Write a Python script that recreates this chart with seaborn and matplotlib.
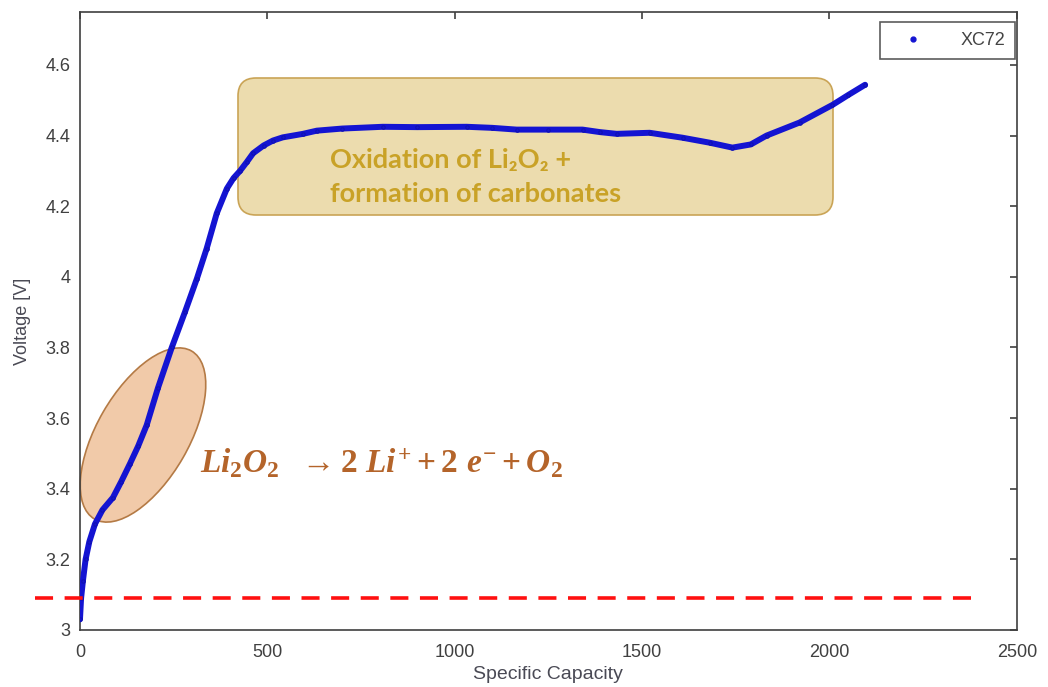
import numpy as np
import seaborn as sns
import matplotlib.pyplot as plt
from matplotlib.patches import Ellipse, FancyBboxPatch
from matplotlib.lines import Line2D

# charge curve
capacity = [0, 3, 8, 15, 25, 40, 60, 88, 110, 133, 155, 178, 208, 245, 280, 312,
            338, 365, 392, 410, 427, 445, 462, 490, 515, 541, 595, 632, 700, 808, 900,
            1032, 1100, 1165, 1250, 1341, 1387, 1432, 1520, 1608, 1680, 1741, 1790,
            1832, 1920, 2008, 2050, 2095]
voltage = [3.03, 3.09, 3.14, 3.20, 3.25, 3.30, 3.34, 3.375, 3.42, 3.47, 3.52, 3.58,
           3.685, 3.80, 3.90, 3.995, 4.08, 4.18, 4.25, 4.28, 4.30, 4.325, 4.35, 4.372,
           4.386, 4.395, 4.405, 4.414, 4.42, 4.425, 4.424, 4.425, 4.422, 4.417, 4.417,
           4.417, 4.41, 4.405, 4.408, 4.394, 4.38, 4.366, 4.375, 4.40, 4.437, 4.487,
           4.515, 4.544]
cutoff_v = 3.09
xticks = [0, 500, 1000, 1500, 2000, 2500]
yticks = [3, 3.2, 3.4, 3.6, 3.8, 4, 4.2, 4.4, 4.6]
ytick_labels = ['3', '3.2', '3.4', '3.6', '3.8', '4', '4.2', '4.4', '4.6']

sns.set_theme(style='white')
plt.rcParams['font.family'] = ['Liberation Sans', 'DejaVu Sans']

fig = plt.figure(figsize=(10.48, 6.87), dpi=100)
ax = fig.add_axes([0.0763, 0.083, 0.894, 0.8995])

sns.lineplot(x=capacity, y=voltage, ax=ax, sort=False, color='#1414d2', linewidth=4.3,
             marker='.', markersize=5, markeredgecolor='#1010b0', zorder=4, legend=False)

# red cutoff line, runs past the left axis
ax.plot([-120, 2387], [cutoff_v, cutoff_v], color='#ff1010', lw=2.6, ls=(0, (5, 3.2)),
        clip_on=False, zorder=5)

# annotations placed in figure inches
tr = fig.dpi_scale_trans
ax.add_patch(Ellipse((1.43, 2.52), 1.94, 0.92, angle=60, transform=tr,
                     facecolor='#f1caa9', edgecolor='#b47a45', lw=1.2, zorder=2, clip_on=False))
ax.add_patch(FancyBboxPatch((2.38, 4.72), 5.95, 1.37, boxstyle='round,pad=0,rounding_size=0.18',
                            transform=tr, facecolor='#ecdcae', edgecolor='#caa456', lw=1.2,
                            zorder=2, clip_on=False))

box_font = dict(color='#c9a227', fontsize=19.5, fontweight='bold',
                family=['Lato', 'DejaVu Sans'], va='baseline')
fig.text(3.30 / 10.48, 1 - 1.68 / 6.87, 'Oxidation of Li\u2082O\u2082 +', **box_font)
fig.text(3.30 / 10.48, 1 - 2.02 / 6.87, 'formation of carbonates', **box_font)

plt.rcParams['mathtext.fontset'] = 'custom'
plt.rcParams['mathtext.it'] = 'Liberation Serif:italic:bold'
plt.rcParams['mathtext.rm'] = 'Liberation Serif:bold'
fig.text(2.00 / 10.48, 1 - 4.73 / 6.87,
         r'$Li_2O_2\ \ \rightarrow \mathrm{2}\ Li^{+} + \mathrm{2}\ e^{-} + O_2$',
         color='#b4642a', fontsize=24, va='baseline')

ax.set_xlim(0, 2500)
ax.set_ylim(3, 4.75)
ax.set_xticks(xticks)
ax.set_yticks(yticks)
ax.set_yticklabels(ytick_labels)
ax.tick_params(direction='in', length=5, width=1.2, colors='#404040', labelsize=13,
               top=True, right=True, labeltop=False, labelright=False)
ax.tick_params(axis='x', pad=10)
ax.tick_params(axis='y', pad=7)
for s in ax.spines.values():
    s.set_color('#404040')
    s.set_linewidth(1.2)
ax.set_xlabel('Specific Capacity', fontsize=14, color='#4a4a55', labelpad=4)
ax.set_ylabel('Voltage [V]', fontsize=13, color='#4a4a55', labelpad=10)

handle = Line2D([], [], color='#1414d2', marker='.', ls='none', markersize=7)
leg = ax.legend([handle], ['XC72'], loc='upper right', fancybox=False, frameon=True,
                edgecolor='#333333', fontsize=13, handletextpad=1.3, borderpad=0.55,
                bbox_to_anchor=(0.998, 0.984), handlelength=2.6, borderaxespad=0)
leg.get_frame().set_linewidth(1.2)
for t in leg.get_texts():
    t.set_color('#444444')

fig.savefig('out.png', dpi=100)
